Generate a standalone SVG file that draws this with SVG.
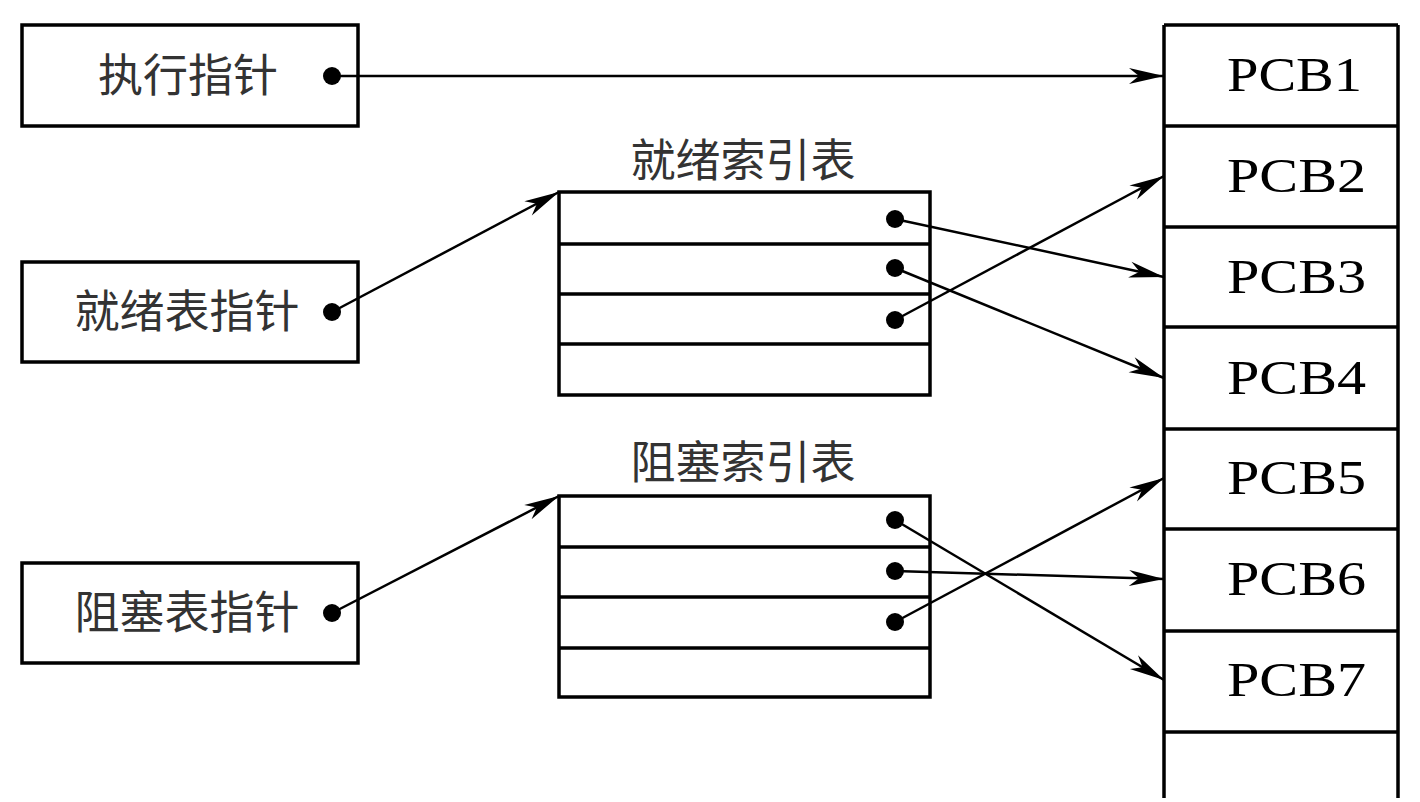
<svg xmlns="http://www.w3.org/2000/svg" width="1420" height="802" viewBox="0 0 1420 802">
<style>
.box{fill:#fff;stroke:#000;stroke-width:3.5}
.ln{stroke:#000;stroke-width:3.5;fill:none}
.cn{stroke:#000;stroke-width:2.5;fill:none;marker-end:url(#ah)}
.cjk{font-family:"Noto Sans CJK SC","Noto Sans CJK JP",sans-serif;font-size:45px;fill:#333;text-anchor:middle}
.pcb{font-family:"Liberation Serif",serif;font-size:48px;fill:#000}
.dot{fill:#000}
</style>
<defs>
<marker id="ah" markerUnits="userSpaceOnUse" markerWidth="40" markerHeight="20" viewBox="-36 -10 40 20" refX="0" refY="0" orient="auto">
<path d="M0,0 L-35,-8 L-25,0 L-35,8 Z" fill="#000"/>
</marker>
</defs>
<rect width="1420" height="802" fill="#fff"/>
<g id="exec-ptr">
<rect class="box" x="22" y="25" width="336" height="101"/>
<text class="cjk" x="188" y="92">执行指针</text>
</g>
<g id="ready-ptr">
<rect class="box" x="22" y="262" width="336" height="100"/>
<text class="cjk" x="187" y="328">就绪表指针</text>
</g>
<g id="block-ptr">
<rect class="box" x="22" y="563" width="336" height="100"/>
<text class="cjk" x="187" y="629">阻塞表指针</text>
</g>
<g id="ready-index">
<text class="cjk" x="743" y="177">就绪索引表</text>
<rect class="box" x="559" y="192" width="371" height="203"/>
<line class="ln" x1="559" y1="244" x2="930" y2="244"/>
<line class="ln" x1="559" y1="294" x2="930" y2="294"/>
<line class="ln" x1="559" y1="344" x2="930" y2="344"/>
</g>
<g id="block-index">
<text class="cjk" x="743" y="479">阻塞索引表</text>
<rect class="box" x="559" y="496" width="371" height="201"/>
<line class="ln" x1="559" y1="547" x2="930" y2="547"/>
<line class="ln" x1="559" y1="597" x2="930" y2="597"/>
<line class="ln" x1="559" y1="648" x2="930" y2="648"/>
</g>
<g id="pcb-table">
<line class="ln" x1="1164" y1="25" x2="1164" y2="798"/>
<line class="ln" x1="1398" y1="25" x2="1398" y2="798"/>
<line class="ln" x1="1164" y1="25" x2="1398" y2="25"/>
<line class="ln" x1="1164" y1="126" x2="1398" y2="126"/>
<line class="ln" x1="1164" y1="227" x2="1398" y2="227"/>
<line class="ln" x1="1164" y1="327" x2="1398" y2="327"/>
<line class="ln" x1="1164" y1="429" x2="1398" y2="429"/>
<line class="ln" x1="1164" y1="529" x2="1398" y2="529"/>
<line class="ln" x1="1164" y1="631" x2="1398" y2="631"/>
<line class="ln" x1="1164" y1="732" x2="1398" y2="732"/>
<text class="pcb" x="1227" y="91" textLength="135" lengthAdjust="spacingAndGlyphs">PCB1</text>
<text class="pcb" x="1227" y="192" textLength="139" lengthAdjust="spacingAndGlyphs">PCB2</text>
<text class="pcb" x="1227" y="293" textLength="139" lengthAdjust="spacingAndGlyphs">PCB3</text>
<text class="pcb" x="1227" y="394" textLength="139" lengthAdjust="spacingAndGlyphs">PCB4</text>
<text class="pcb" x="1227" y="494" textLength="139" lengthAdjust="spacingAndGlyphs">PCB5</text>
<text class="pcb" x="1227" y="595" textLength="139" lengthAdjust="spacingAndGlyphs">PCB6</text>
<text class="pcb" x="1227" y="696" textLength="139" lengthAdjust="spacingAndGlyphs">PCB7</text>
</g>
<g id="connectors">
<line class="cn" x1="332" y1="76" x2="1164" y2="76"/>
<line class="cn" x1="332" y1="312" x2="559" y2="192"/>
<line class="cn" x1="332" y1="613" x2="559" y2="496"/>
<line class="cn" x1="895" y1="219" x2="1164" y2="277"/>
<line class="cn" x1="895" y1="268" x2="1164" y2="378"/>
<line class="cn" x1="895" y1="320" x2="1164" y2="176"/>
<line class="cn" x1="895" y1="520" x2="1164" y2="680"/>
<line class="cn" x1="895" y1="571" x2="1164" y2="579"/>
<line class="cn" x1="895" y1="622" x2="1164" y2="478"/>
<circle class="dot" cx="332" cy="76" r="9"/>
<circle class="dot" cx="332" cy="312" r="9"/>
<circle class="dot" cx="332" cy="613" r="9"/>
<circle class="dot" cx="895" cy="219" r="9"/>
<circle class="dot" cx="895" cy="268" r="9"/>
<circle class="dot" cx="895" cy="320" r="9"/>
<circle class="dot" cx="895" cy="520" r="9"/>
<circle class="dot" cx="895" cy="571" r="9"/>
<circle class="dot" cx="895" cy="622" r="9"/>
</g>
</svg>
